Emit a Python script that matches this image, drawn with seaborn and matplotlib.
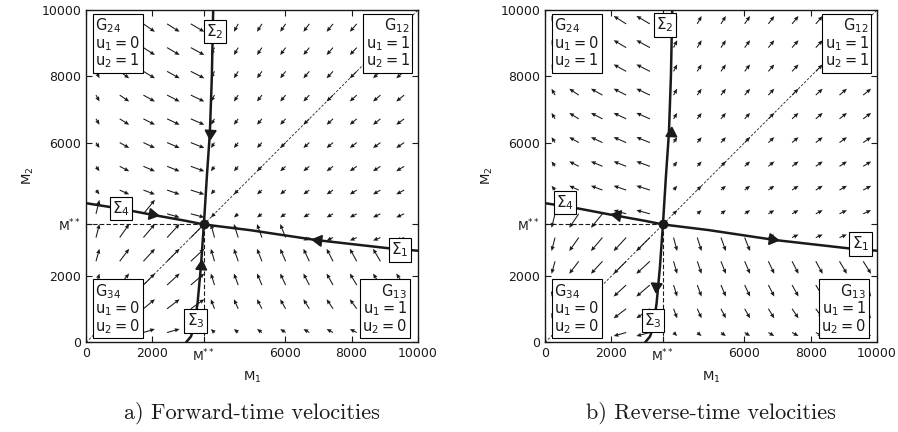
import numpy as np
import matplotlib
matplotlib.use("Agg")
import matplotlib.pyplot as plt
import seaborn as sns

# grid of the velocity arrows (same for M1 and M2)
grid = [300, 1014, 1728, 2442, 3156, 3870, 4584, 5298, 6012, 6726, 7440, 8154, 8868, 9582]
# arrow components (in pixels), per grid position
grow = [3.5, 9.5, 11.5, 12.5, 13.5, 14.0, 14.0, 14.0, 14.0, 14.0, 14.0, 14.0, 14.0, 14.0]      # u = 0
decay = [-0.5, -1.2, -1.9, -2.5, -3.0, -3.6, -4.3, -4.9, -5.4, -5.9, -6.4, -6.9, -7.4, -7.9]  # u = 1

m_star = 3550

# switching curves
sig2_m1 = [3550, 3640, 3730, 3790, 3830]
sig2_m2 = [3550, 5000, 6300, 8000, 10000]
sig3_m1 = [3550, 3460, 3360, 3260, 3160, 3010]
sig3_m2 = [3550, 2280, 1190, 480, 180, 0]
sig4_m1 = [0, 1000, 2000, 3000, 3550]
sig4_m2 = [4190, 4030, 3840, 3660, 3550]
sig1_m1 = [3550, 4930, 6940, 9150, 10000]
sig1_m2 = [3550, 3380, 3080, 2830, 2760]

ticks = [0, 2000, m_star, 6000, 8000, 10000]
tick_labels = ["0", "2000", r"$\mathregular{M^{**}}$", "6000", "8000", "10000"]

regions = [
    (r"$\mathregular{G_{24}}$" + "\n" + r"$\mathregular{u_1=0}$" + "\n" + r"$\mathregular{u_2=1}$", 0.028, 0.98, "left", "top"),
    (r"$\mathregular{G_{12}}$" + "\n" + r"$\mathregular{u_1=1}$" + "\n" + r"$\mathregular{u_2=1}$", 0.975, 0.98, "right", "top"),
    (r"$\mathregular{G_{34}}$" + "\n" + r"$\mathregular{u_1=0}$" + "\n" + r"$\mathregular{u_2=0}$", 0.028, 0.02, "left", "bottom"),
    (r"$\mathregular{G_{13}}$" + "\n" + r"$\mathregular{u_1=1}$" + "\n" + r"$\mathregular{u_2=0}$", 0.967, 0.02, "right", "bottom"),
]

sns.set_theme(style="ticks", rc={"text.color": "k", "axes.labelcolor": "k",
                                 "xtick.color": "k", "ytick.color": "k",
                                 "axes.edgecolor": "k"})
plt.rcParams["font.family"] = ["DejaVu Sans"]
plt.rcParams["mathtext.fontset"] = "dejavusans"

fig = plt.figure(figsize=(8.98, 4.32), dpi=100)
ax_a = fig.add_axes([0.0958, 0.2072, 0.3697, 0.7697])
ax_b = fig.add_axes([0.6070, 0.2072, 0.3697, 0.7697])

px = 10000 / 332.0  # data units per pixel

X, Y = np.meshgrid(grid, grid)
sw1 = np.interp(Y, sig3_m2[::-1] + sig2_m2[1:], sig3_m1[::-1] + sig2_m1[1:])
sw2 = np.interp(X, sig4_m1 + sig1_m1[1:], sig4_m2 + sig1_m2[1:])
u1 = X > sw1
u2 = Y > sw2
g = np.array(grow)
d = np.array(decay)
U = np.where(u1, d[None, :], g[None, :]) * px
V = np.where(u2, d[:, None], g[:, None]) * px

panels = [
    (ax_a, 1, "a) Forward-time velocities",
     [(3730, 6300, 267), (2000, 3860, -10), (6990, 3080, 172.6), (3460, 2300, 85.4)],
     [(r"$\Sigma_2$", 3880, 9360), (r"$\Sigma_4$", 1050, 4040), (r"$\Sigma_1$", 9450, 2780), (r"$\Sigma_3$", 3300, 650)]),
    (ax_b, -1, "b) Reverse-time velocities",
     [(3780, 6290, 87), (2180, 3830, 170), (6840, 3100, -7.4), (3350, 1700, 265.4)],
     [(r"$\Sigma_2$", 3600, 9550), (r"$\Sigma_4$", 600, 4200), (r"$\Sigma_1$", 9500, 2960), (r"$\Sigma_3$", 3250, 670)]),
]

for ax, sign, caption, heads, labels in panels:
    ax.quiver(X, Y, sign * U, sign * V, angles="xy", scale_units="xy", scale=1,
              pivot="tail", width=0.0032, headwidth=4, headlength=4.6,
              headaxislength=4.2, minlength=0.5, color="k", zorder=2)

    # helper lines
    ax.plot([0, 10000], [0, 10000], color="k", lw=0.6, ls=(0, (3, 2)), zorder=3)
    ax.plot([0, m_star], [m_star, m_star], color="k", lw=0.8, ls=(0, (4, 2)), zorder=3)
    ax.plot([m_star, m_star], [0, m_star], color="k", lw=0.8, ls=(0, (4, 2)), zorder=3)

    for cx, cy in [(sig2_m1, sig2_m2), (sig3_m1, sig3_m2), (sig4_m1, sig4_m2), (sig1_m1, sig1_m2)]:
        sns.lineplot(x=cx, y=cy, sort=False, color="k", lw=1.8, ax=ax, zorder=4)

    for hx, hy, ang in heads:
        ax.plot(hx, hy, marker=(3, 0, ang - 90), ms=9, color="k", mec="k", zorder=5)
    ax.plot(m_star, m_star, "o", ms=6, color="k", zorder=5)

    for txt, tx, ty in labels:
        ax.text(tx, ty, txt, ha="center", va="center", fontsize=11, zorder=7,
                bbox=dict(boxstyle="square,pad=0.15", fc="white", ec="black", lw=0.8))
    for txt, tx, ty, ha, va in regions:
        ax.text(tx, ty, txt, transform=ax.transAxes, ha=ha, va=va, fontsize=10.5,
                linespacing=0.92, zorder=7,
                bbox=dict(boxstyle="square,pad=0.18", fc="white", ec="black", lw=0.8))

    ax.set_xlim(0, 10000)
    ax.set_ylim(0, 10000)
    ax.set_xticks(ticks)
    ax.set_xticklabels(tick_labels)
    ax.set_yticks(ticks)
    ax.set_yticklabels(tick_labels)
    ax.tick_params(direction="in", top=True, right=True, length=4, width=0.8,
                   labelsize=9, colors="k")
    for s in ax.spines.values():
        s.set_linewidth(1.0)
        s.set_color("k")
    ax.set_xlabel(r"$\mathregular{M_1}$", fontsize=9.5)
    ax.set_ylabel(r"$\mathregular{M_2}$", fontsize=9.5)
    pos = ax.get_position()
    fig.text(pos.x0 + pos.width / 2 - 0.0, 0.044, caption, family="cmr10",
             fontsize=16, ha="center", va="center")

fig.savefig("out.png", dpi=100)
